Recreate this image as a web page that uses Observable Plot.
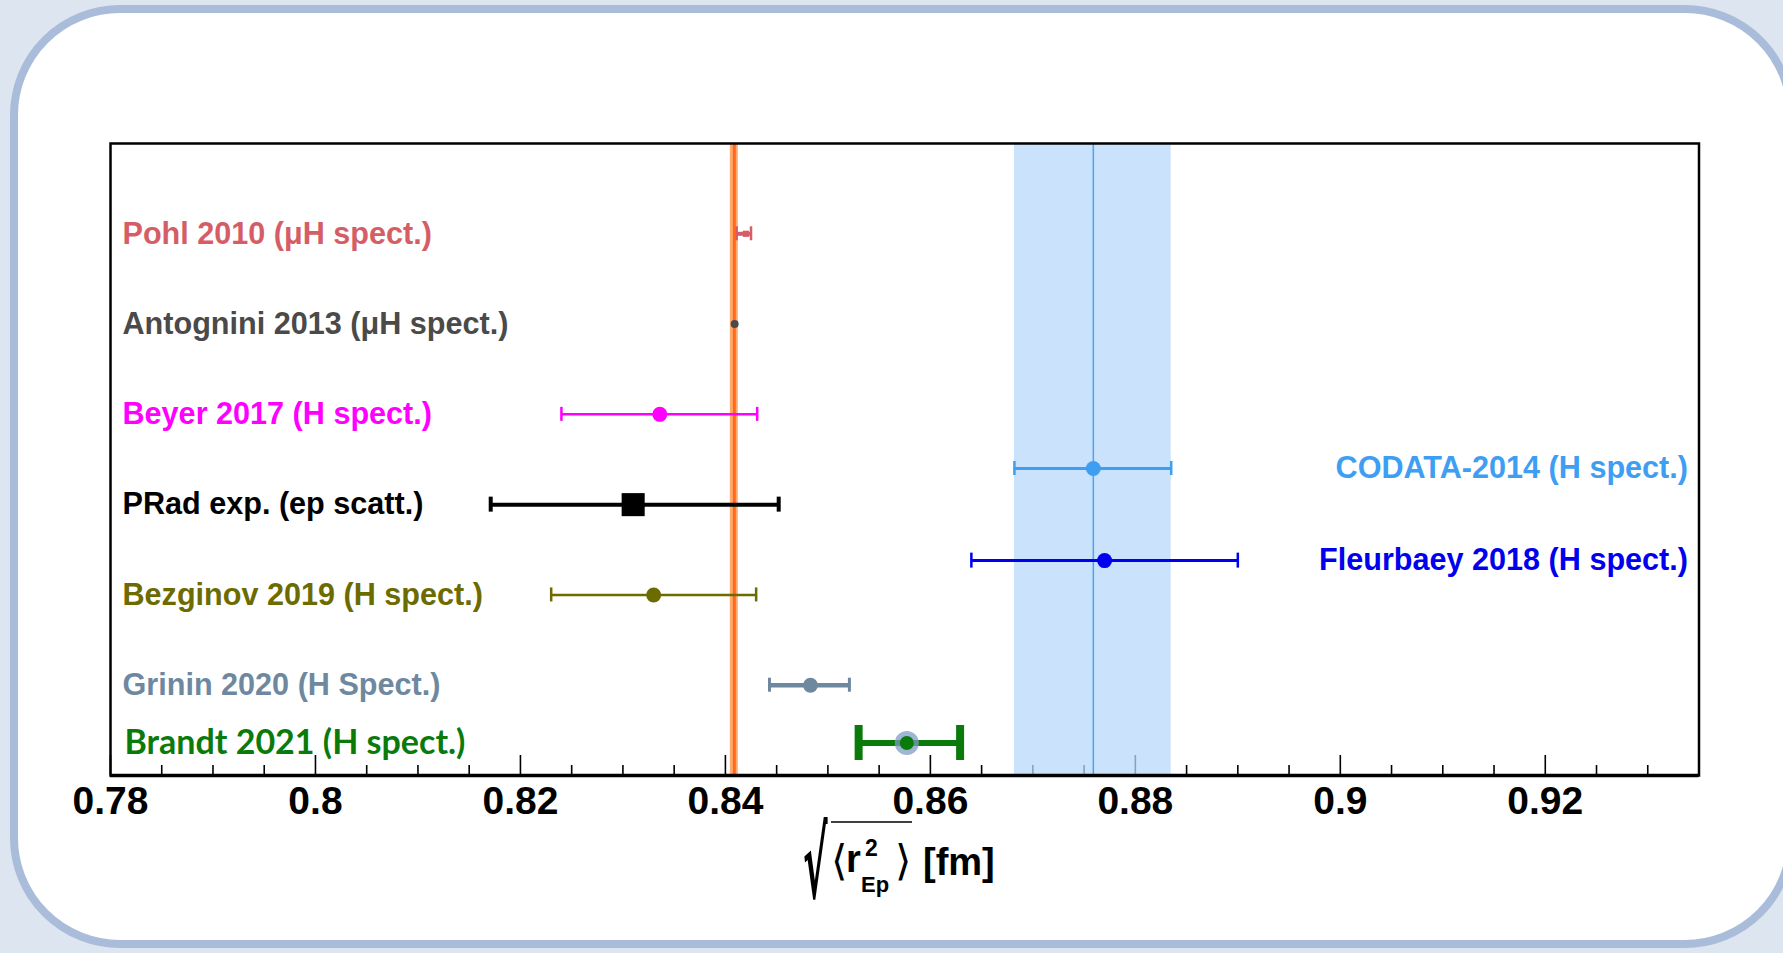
<!DOCTYPE html>
<html>
<head>
<meta charset="utf-8">
<script src="https://cdn.jsdelivr.net/npm/d3@7"></script>
<script src="https://cdn.jsdelivr.net/npm/@observablehq/plot@0.6"></script>
<style>
  html, body { margin: 0; padding: 0; width: 1783px; height: 953px; overflow: hidden; background: #dde6f0; }
  #panel { position: absolute; left: 10px; top: 5px; width: 1785px; height: 943px; box-sizing: border-box;
           border: 8px solid #a9bcd9; border-radius: 110px; background: #ffffff; }
  #chart { position: absolute; left: 0; top: 0; }
</style>
</head>
<body>
<div id="panel"></div>
<div id="chart"></div>
<script>
// ---- data ----
const labels = ["Pohl 2010 (μH spect.)", "Antognini 2013 (μH spect.)", "Beyer 2017 (H spect.)",
  "PRad exp. (ep scatt.)", "Bezginov 2019 (H spect.)", "Grinin 2020 (H Spect.)",
  "Brandt 2021 (H spect.)", "CODATA-2014 (H spect.)", "Fleurbaey 2018 (H spect.)"];
const centers = [0.8420, 0.84090, 0.8336, 0.8310, 0.8330, 0.8483, 0.8577, 0.8759, 0.8770];
const lows    = [0.8411, 0.84051, 0.8240, 0.8171, 0.8230, 0.8443, 0.8530, 0.8682, 0.8640];
const highs   = [0.8425, 0.84129, 0.8431, 0.8452, 0.8430, 0.8521, 0.8629, 0.8835, 0.8900];
const rows    = [7, 6, 5, 4, 3, 2, 1.36, 4.4, 3.38];
const sides   = ["left", "left", "left", "left", "left", "left", "left", "right", "right"];
const colors  = ["#d55e66", "#4a4a4a", "#ff00ff", "#000000", "#6b6b00", "#6e88a0", "#0a7a0a", "#3e9ef2", "#0000ee"];

const muonBand  = [0.84048, 0.84087, 0.84126];   // low, centre, high
const codataBand = [0.8682, 0.8759, 0.8835];      // low, centre, high
const majorTicks = [0.78, 0.80, 0.82, 0.84, 0.86, 0.88, 0.90, 0.92];
const xDomain = [0.78, 0.935];
const yDomain = [1, 8];

// ---- styles (pixels) ----
const styles = [
  {bar: 4, cap: 14, capW: 2.5, r: 3.5, symbol: "square"},
  {bar: 0, cap: 0, capW: 0, r: 4, symbol: "circle"},
  {bar: 2.5, cap: 14, capW: 2.5, r: 7.5, symbol: "circle"},
  {bar: 4, cap: 15, capW: 4, r: 13, symbol: "square"},
  {bar: 2.5, cap: 14, capW: 2.5, r: 7.5, symbol: "circle"},
  {bar: 4.5, cap: 14, capW: 3, r: 7.5, symbol: "circle"},
  {bar: 6, cap: 35, capW: 8, r: 7, symbol: "circle", halo: 12},
  {bar: 3, cap: 14, capW: 2.5, r: 7.5, symbol: "circle"},
  {bar: 3, cap: 15, capW: 2.5, r: 7.5, symbol: "circle"}
];

const W = 1783, H = 953;
const mL = 110, mR = 84.5, mT = 143, mB = 178;
const pxPerUnit = (H - mT - mB) / (yDomain[1] - yDomain[0]);
const py = px => px / pxPerUnit;

const data = labels.map((label, i) => ({
  label, x: centers[i], lo: lows[i], hi: highs[i], y: rows[i], side: sides[i], color: colors[i], ...styles[i]
}));

const minorTicks = d3.range(0.785, 0.9301, 0.005).filter(v => !majorTicks.some(m => Math.abs(m - v) < 1e-6));

const marks = [];
// ticks (drawn first, under the bands)
marks.push(Plot.ruleX(majorTicks, {x: d => d, y1: yDomain[0], y2: yDomain[0] + py(20), stroke: "#000", strokeWidth: 1.6}));
marks.push(Plot.ruleX(minorTicks, {x: d => d, y1: yDomain[0], y2: yDomain[0] + py(10), stroke: "#000", strokeWidth: 1.6}));
// CODATA band
marks.push(Plot.rectX([codataBand], {x1: d => d[0], x2: d => d[2], y1: yDomain[0], y2: yDomain[1], fill: "#b8d8fb", fillOpacity: 0.75}));
marks.push(Plot.ruleX([codataBand], {x: d => d[1], y1: yDomain[0], y2: yDomain[1], stroke: "#4ea2f0", strokeWidth: 1.5}));
// muonic band
marks.push(Plot.rectX([muonBand], {x1: d => d[0], x2: d => d[2], y1: yDomain[0], y2: yDomain[1], fill: "#ffab70"}));
marks.push(Plot.ruleX([muonBand], {x: d => d[1], y1: yDomain[0], y2: yDomain[1], stroke: "#ff6a1a", strokeWidth: 3}));
// frame
marks.push(Plot.frame({stroke: "#000", strokeWidth: 2.5}));
marks.push(Plot.ruleY([yDomain[0]], {stroke: "#000", strokeWidth: 3.5}));

// error bars and points
for (const d of data) {
  if (d.bar > 0) marks.push(Plot.ruleY([d], {y: "y", x1: "lo", x2: "hi", stroke: d.color, strokeWidth: d.bar}));
  if (d.cap > 0) marks.push(Plot.ruleX([d.lo, d.hi], {x: v => v, y1: d.y - py(d.cap / 2), y2: d.y + py(d.cap / 2), stroke: d.color, strokeWidth: d.capW}));
  if (d.halo) marks.push(Plot.dot([d], {x: "x", y: "y", r: d.halo, fill: "#7f9cc4", fillOpacity: 0.75}));
  marks.push(Plot.dot([d], {x: "x", y: "y", r: d.r, symbol: d.symbol, fill: d.color}));
}

// labels
const leftLabels = data.filter(d => d.side === "left" && !d.halo);
const brandt = data.filter(d => d.halo);
const rightLabels = data.filter(d => d.side === "right");
marks.push(Plot.text(leftLabels, {x: xDomain[0], y: "y", dx: 12, text: "label", fill: "color", textAnchor: "start",
  fontSize: 30.6, fontWeight: "bold", fontFamily: "Liberation Sans, Arial, sans-serif"}));
marks.push(Plot.text(brandt, {x: xDomain[0], y: "y", dx: 14, text: "label", fill: "color", textAnchor: "start",
  fontSize: 34, fontWeight: "bold", fontFamily: "Lato, sans-serif"}));
marks.push(Plot.text(rightLabels, {x: xDomain[1], y: "y", dx: -11, text: "label", fill: "color", textAnchor: "end",
  fontSize: 30.6, fontWeight: "bold", fontFamily: "Liberation Sans, Arial, sans-serif"}));
// tick labels
marks.push(Plot.text(majorTicks, {x: d => d, y: yDomain[0], dy: 26, text: d => String(d), fill: "#000",
  fontSize: 39, fontWeight: "bold", fontFamily: "Liberation Sans, Arial, sans-serif"}));

const chart = Plot.plot({
  width: W, height: H,
  marginLeft: mL, marginRight: mR, marginTop: mT, marginBottom: mB,
  x: {domain: xDomain, axis: null},
  y: {domain: yDomain, axis: null},
  style: {background: "transparent", overflow: "visible"},
  marks
});
document.getElementById("chart").appendChild(chart);

// axis title  √⟨r²_Ep⟩ [fm]
const svg = d3.select(chart);
const g = svg.append("g")
  .attr("font-family", "Liberation Sans, Arial, sans-serif")
  .attr("font-weight", "bold").attr("fill", "#000").attr("text-anchor", "start");
g.append("text").attr("transform", "translate(803,898) scale(0.40,1.05)").attr("font-size", 92)
  .attr("font-family", "DejaVu Sans, sans-serif").attr("font-weight", "bold").text("√");
g.append("line").attr("x1", 831).attr("x2", 912).attr("y1", 822).attr("y2", 822).attr("stroke", "#000").attr("stroke-width", 1.5);
const t = g.append("text").attr("font-size", 38);
t.append("tspan").attr("x", 831).attr("y", 875).attr("font-size", 42).attr("font-weight", "normal").attr("font-family", "DejaVu Sans, sans-serif").text("⟨");
t.append("tspan").attr("x", 846).attr("y", 872).text("r");
t.append("tspan").attr("x", 865).attr("y", 856).attr("font-size", 23).text("2");
t.append("tspan").attr("x", 861).attr("y", 892).attr("font-size", 22).text("Ep");
t.append("tspan").attr("x", 895).attr("y", 875).attr("font-size", 42).attr("font-weight", "normal").attr("font-family", "DejaVu Sans, sans-serif").text("⟩");
t.append("tspan").attr("x", 923).attr("y", 875).text("[fm]");
</script>
</body>
</html>
